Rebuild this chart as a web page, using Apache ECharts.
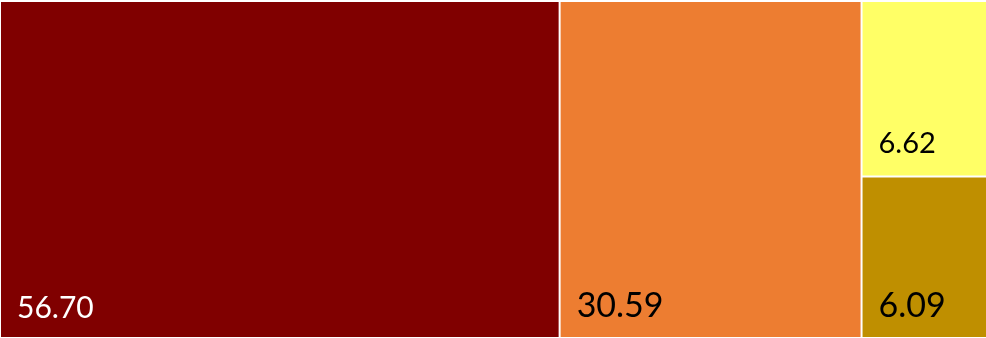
<!DOCTYPE html>
<html>
<head>
<meta charset="utf-8">
<style>
  html, body { margin: 0; padding: 0; background: #ffffff; }
  #chart { width: 986px; height: 338px; }
</style>
<script src="https://cdn.jsdelivr.net/npm/echarts@6/dist/echarts.min.js"></script>
</head>
<body>
<div id="chart"></div>
<script>
// Share of total, one tile per category
const categories = ['A', 'B', 'C', 'D'];
const values = [56.70, 30.59, 6.62, 6.09];
const tileColors = ['#800000', '#ED7D31', '#FFFF66', '#BF8F00'];
const labelColors = ['#ffffff', '#000000', '#000000', '#000000'];
const labelSizes = [30, 34, 29, 34];
const labelBottomGaps = [14, 14, 17, 14];

const chart = echarts.init(document.getElementById('chart'), null, { renderer: 'canvas' });

const data = categories.map((name, i) => ({
  name: name,
  value: values[i],
  itemStyle: { color: tileColors[i] },
  label: {
    color: labelColors[i],
    fontSize: labelSizes[i],
    padding: [0, 0, labelBottomGaps[i], 16]
  }
}));

chart.setOption({
  animation: false,
  series: [{
    type: 'treemap',
    left: 1,
    top: 2,
    width: 985,
    height: 335,
    roam: false,
    nodeClick: false,
    breadcrumb: { show: false },
    squareRatio: 0.5 * (1 + Math.sqrt(5)),
    levels: [{
      itemStyle: { borderWidth: 0, gapWidth: 2, borderColor: '#ffffff' }
    }],
    itemStyle: { borderWidth: 0, gapWidth: 2 },
    label: {
      show: true,
      position: 'insideBottomLeft',
      distance: 0,
      fontFamily: 'Lato',
      formatter: p => p.value.toFixed(2)
    },
    data: data
  }]
});
</script>
</body>
</html>
